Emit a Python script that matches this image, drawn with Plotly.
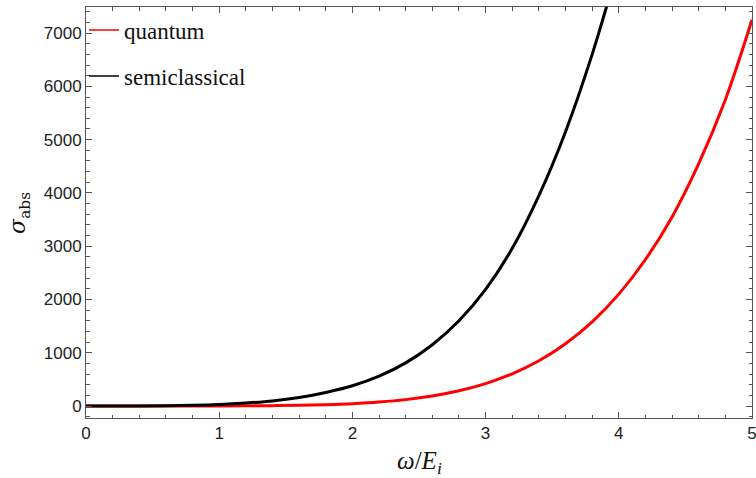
import plotly.graph_objects as go

# omega / E_i sample positions and read-off values
x_semi = [0.0, 0.2, 0.4, 0.6, 0.8, 1.0, 1.2, 1.4, 1.6, 1.8, 2.0, 2.2, 2.4, 2.6, 2.8, 3.0, 3.2, 3.4, 3.6, 3.8, 4.0]
y_semi = [0, 0, 1, 4, 12, 28, 55, 95, 160, 255, 380, 560, 810, 1150, 1600, 2190, 2960, 3950, 5150, 6600, 8300]

x_quant = [0.0, 0.2, 0.4, 0.6, 0.8, 1.0, 1.2, 1.4, 1.6, 1.8, 2.0, 2.2, 2.4, 2.6, 2.8, 3.0,
           3.2, 3.4, 3.6, 3.8, 4.0, 4.2, 4.4, 4.6, 4.8, 5.0]
y_quant = [0, 0, 0, 0.3, 0.8, 1.5, 3.5, 7, 13, 25, 44, 74, 120, 188, 285, 420,
           605, 850, 1170, 1580, 2100, 2750, 3550, 4550, 5750, 7250]

legend_names = ["quantum", "semiclassical"]
colors = ["#ff0000", "#000000"]

x_ticks = [0, 1, 2, 3, 4, 5]
y_ticks = [0, 1000, 2000, 3000, 4000, 5000, 6000, 7000]

fig = go.Figure()
fig.add_trace(go.Scatter(x=x_quant, y=y_quant, mode="lines",
                         line=dict(color=colors[0], width=3, shape="spline", smoothing=1),
                         showlegend=False, hoverinfo="skip"))
fig.add_trace(go.Scatter(x=x_semi, y=y_semi, mode="lines",
                         line=dict(color=colors[1], width=3, shape="spline", smoothing=1),
                         showlegend=False, hoverinfo="skip"))
# legend entries (thin sample lines)
for name, c in zip(legend_names, colors):
    fig.add_trace(go.Scatter(x=[None], y=[None], mode="lines", name=name,
                             line=dict(color=c, width=1.5), legendgroup=name))

axis_common = dict(
    showline=True, linecolor="#555555", linewidth=1, mirror="ticks",
    ticks="inside", ticklen=6, tickcolor="#555555", tickwidth=1,
    showgrid=False, zeroline=False, automargin=False,
    ticklabeloverflow="allow",
    tickfont=dict(family="Liberation Sans", size=17, color="#222222"),
)
fig.update_xaxes(range=[0, 5], tickvals=x_ticks, ticktext=[str(v) for v in x_ticks],
                 minor=dict(dtick=0.2, tick0=0, ticks="inside", ticklen=3.5, tickcolor="#555555", showgrid=False),
                 **axis_common)
fig.update_yaxes(range=[-225, 7490], tickvals=y_ticks, ticktext=[str(v) for v in y_ticks],
                 minor=dict(dtick=200, tick0=0, ticks="inside", ticklen=3.5, tickcolor="#555555", showgrid=False),
                 **axis_common)

fig.update_layout(
    width=756, height=478,
    margin=dict(l=86, r=4, t=7, b=60),
    paper_bgcolor="white", plot_bgcolor="white",
    legend=dict(x=-0.003, y=0.996, xanchor="left", yanchor="top", bgcolor="rgba(0,0,0,0)",
                font=dict(family="Liberation Serif", size=23, color="#111111"),
                tracegroupgap=13, itemwidth=30),
    annotations=[
        dict(text="<i>ω</i>/<i>E<sub>i</sub></i>", xref="paper", yref="paper", x=0.5, y=-0.108,
             xanchor="center", yanchor="middle", showarrow=False,
             font=dict(family="Liberation Serif", size=25, color="#111111")),
        dict(text="<i>σ</i><sub>abs</sub>", xref="paper", yref="paper", x=-0.1, y=0.5,
             xanchor="center", yanchor="middle", showarrow=False, textangle=-90,
             font=dict(family="DejaVu Serif", size=22, color="#111111")),
    ],
)

fig.write_html("out.html", config={"displayModeBar": False},
               post_script="document.body.style.margin='0';document.body.style.padding='0';")
